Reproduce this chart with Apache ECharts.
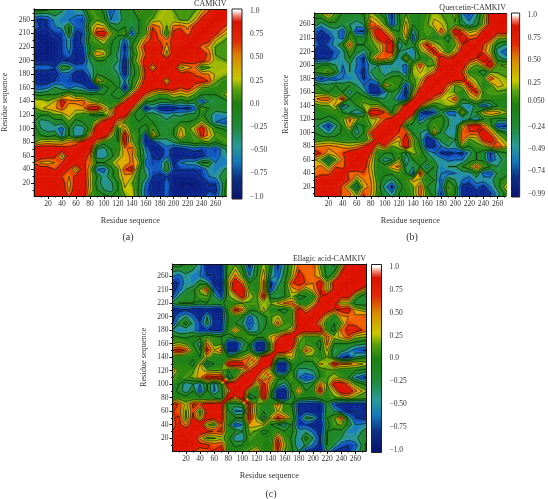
<!DOCTYPE html>
<html>
<head>
<meta charset="utf-8">
<title>Residue cross correlation maps</title>
<script src="https://cdn.jsdelivr.net/npm/echarts@6/dist/echarts.min.js"></script>
<style>
  html, body { margin: 0; padding: 0; background: #fff; }
  #chart { width: 548px; height: 499px; filter: blur(0.35px); }
</style>
</head>
<body>
<div id="chart"></div>
<script>
// residue position of each matrix row/column
const residues = [0, 10, 20, 30, 40, 50, 60, 70, 80, 90, 100, 110, 120, 130, 140, 150, 160, 170, 180, 190, 200, 210, 220, 230, 240, 250, 260, 278];

const xTicks = [20, 40, 60, 80, 100, 120, 140, 160, 180, 200, 220, 240, 260];
const xMinorTicks = [10, 30, 50, 70, 90, 110, 130, 150, 170, 190, 210, 230, 250, 270];
const yTicks = [20, 40, 60, 80, 100, 120, 140, 160, 180, 200, 220, 240, 260];
const yTickLabels = ["20", "40", "60", "80", "100", "120", "140", "160", "180", "200", "220", "210", "260"];

const barTicksDefault = [1, 0.75, 0.5, 0.25, 0, -0.25, -0.5, -0.75, -1];
const barLabelsDefault = ["1.0", "0.75", "0.50", "0.25", "0.0", "−0.25", "−0.50", "−0.75", "−1.0"];
const barTicksQuercetin = [1, 0.75, 0.5, 0.25, 0.05, -0.24, -0.49, -0.74, -0.99];
const barLabelsQuercetin = ["1.0", "0.75", "0.50", "0.25", "0.050", "−0.24", "−0.49", "−0.74", "−0.99"];

// correlation matrices, lower triangle only (row = y residue, column = x residue), the maps are symmetric
const camkivRows = [
  [.8],
  [.8,.85],
  [.8,.85,.85],
  [.8,.85,.85,.85],
  [.75,.8,.8,.6,.9],
  [.6,.4,.35,.45,.6,.9],
  [.85,.8,.75,.7,.2,.8,.9],
  [.85,.85,.85,.85,.8,.7,.85,.9],
  [.1,.3,.35,.3,.3,.45,.5,.8,.9],
  [0,-.1,-.2,-.1,-.5,-.1,-.4,-.3,.4,.9],
  [0,-.3,-.4,-.4,-.6,-.1,-.45,-.4,0,.9,.9],
  [-.1,-.4,-.35,-.2,-.2,.1,-.2,-.1,-.1,.3,.75,.9],
  [-.1,-.1,-.1,.1,.1,.35,.1,0,-.1,-.2,-.1,.4,.85],
  [.1,.25,.35,.4,.6,.3,.35,.4,.75,.8,.4,.1,.85,.95],
  [.25,.25,.15,.3,.75,.5,.5,.55,.2,.1,0,-.1,-.05,.6,.95],
  [-.1,-.15,-.1,-.1,0,.25,0,0,-.1,0,-.1,-.1,-.2,-.1,.5,.95],
  [-.6,-.6,-.5,-.25,-.4,-.55,-.4,-.5,-.8,-.8,-.2,-.05,-.1,-.9,-.1,.5,.95],
  [-.75,-.85,-.85,-.7,-.6,-.65,-.75,-.85,-.8,.4,.1,-.1,-.2,-.5,-.1,.2,.8,.95],
  [-.85,-.9,-.9,-.8,-.6,-.6,-.85,-.9,-.5,-.1,-.2,-.2,-.3,-.85,-.2,.05,.7,.85,.9],
  [-.6,-.55,-.55,-.7,-.1,-.2,-.55,-.55,-.4,-.2,-.2,-.25,-.4,-.9,-.2,.1,.8,.3,.85,.95],
  [-.9,-.9,-.9,-.9,-.7,-.8,-.9,-.85,-.3,-.1,-.1,-.2,-.3,-.9,-.1,.3,.8,.85,.85,.85,.95],
  [-.9,-.95,-.95,-.9,-.7,-.5,-.9,-.8,-.1,.45,.3,-.1,-.35,-.7,-.2,.2,.6,.85,.7,.2,.8,.9],
  [-.85,-.9,-.95,-.9,-.7,-.4,-.85,-.7,-.1,0,.05,-.1,-.2,-.85,-.1,.3,.75,.8,.8,.35,.8,.85,.95],
  [-.8,-.95,-.95,-.9,-.7,-.4,-.9,-.6,.05,.1,.3,-.05,-.2,-.6,-.2,.1,.5,.7,.6,.5,.7,.7,.9,.95],
  [-.85,-.9,-.9,-.7,-.7,-.1,-.8,-.7,-.05,.7,.8,.2,-.05,.1,-.7,-.1,.1,.75,.5,-.1,.7,.8,.5,.8,.95],
  [-.5,-.75,-.7,-.5,-.4,-.1,-.6,-.6,.1,.4,.3,-.1,-.2,-.1,-.3,-.1,.05,.6,.45,.1,.5,.55,.4,.7,.85,.95],
  [-.65,-.8,-.7,-.4,-.5,-.5,-.6,-.7,-.1,.1,0,-.5,-.5,-.15,-.25,-.1,.05,.15,.25,.2,.2,.1,.1,.3,.7,.85,.95],
  [.1,.15,.05,-.1,-.2,-.5,-.3,-.2,.1,0,-.2,-.7,-.4,-.1,-.1,.25,.05,-.05,.15,.25,.1,.1,.1,.05,.2,.5,.85,.95]
];

const quercetinRows = [
  [.5],
  [.7,.85],
  [.8,.85,.9],
  [.7,.85,.85,.9],
  [.5,.55,.55,.75,.95],
  [.4,.5,.15,.6,.5,.95],
  [.3,.1,-.4,.1,.5,.85,.95],
  [.8,.6,.35,.45,.6,.8,.85,.95],
  [.4,.45,.5,.45,.4,.3,.4,.6,.9],
  [-.05,0,.05,0,-.1,-.05,-.1,-.1,.3,.9],
  [-.1,-.2,-.4,-.2,-.05,0,-.4,-.1,.6,.85,.9],
  [-.2,-.45,-.8,-.35,-.05,.4,-.3,-.1,.1,.6,.85,.9],
  [-.1,-.1,-.2,-.1,.1,.5,.2,0,.2,.3,.6,.85,.9],
  [-.1,-.05,0,.05,-.1,-.3,-.45,-.3,.85,.85,.6,-.1,.6,.95],
  [0,.1,.1,.35,-.6,-.3,-.1,.2,.15,.2,-.1,-.2,.1,.8,.95],
  [.4,.55,.55,.2,.7,-.1,0,.05,-.1,-.2,-.3,-.2,-.6,-.7,.6,.9],
  [.05,0,-.1,-.1,-.1,-.4,-.1,-.3,-.8,-.9,-.5,-.1,-.3,-.9,.1,.8,.95],
  [0,-.2,-.25,-.1,-.2,-.1,-.3,-.5,-.75,-.7,.35,.1,0,-.7,-.1,.45,.85,.95],
  [-.6,-.75,-.55,-.65,-.5,-.5,-.4,-.75,-.5,-.2,-.2,0,.05,-.2,.1,.2,.7,.85,.95],
  [-.05,.05,.15,-.1,-.6,-.3,-.55,-.8,-.3,-.2,-.45,-.3,-.3,-.6,.2,.3,.2,.5,.9,.95],
  [-.2,-.1,-.1,-.3,-.5,-.3,-.5,-.7,-.4,-.3,-.4,-.4,-.4,-.6,.1,.6,.1,.1,.85,.95,.9],
  [-.85,-.75,-.8,-.5,-.4,-.1,-.5,-.8,.1,.55,.55,.3,-.5,.25,-.4,-.1,-.1,.25,.8,.6,.85,.9],
  [-.75,-.85,-.85,-.6,-.4,.1,-.2,-.4,-.1,.1,.6,.7,-.3,-.4,-.5,.1,.4,.75,.3,0,.3,.8,.95],
  [-.5,-.8,-.6,-.4,-.1,.55,-.1,-.1,.05,.2,.55,.85,-.5,-.1,-.2,.3,.7,.3,.1,0,.1,.6,.85,.95],
  [-.65,-.9,-.8,-.4,-.6,.1,-.15,-.2,.1,.7,.85,.5,-.1,.3,-.7,.05,.05,-.1,.05,-.3,.45,.85,.55,.6,.95],
  [-.6,-.75,-.5,-.4,-.65,-.1,-.7,-.75,.4,.85,.5,.1,-.1,.45,-.4,0,.1,.05,.6,.1,.85,.55,.2,.3,.7,.95],
  [-.2,-.4,-.2,-.15,-.25,-.3,-.4,-.3,.6,.4,.1,-.7,-.2,.35,-.1,0,.1,.35,.3,.1,.1,-.2,-.4,-.2,.2,.8,.95],
  [0,.2,.5,.15,-.1,-.1,-.1,-.05,.15,-.05,-.3,-.75,-.1,.1,-.1,-.05,.05,.2,.1,.05,.2,-.5,-.75,-.4,.1,.85,.9,.95]
];

const ellagicRows = [
  [.8],
  [.85,.85],
  [.75,.9,.9],
  [.6,.85,.85,.85],
  [.5,.7,.4,.8,.85],
  [.6,.65,.05,.7,.15,.8],
  [.65,.55,.1,.6,0,.7,.85],
  [.75,.6,.2,.65,.6,.75,.75,.85],
  [-.1,0,0,-.1,-.1,-.1,-.1,-.3,.9],
  [0,-.15,-.45,-.1,-.7,-.05,-.55,-.2,.4,.9],
  [.05,-.1,-.45,-.3,-.5,-.1,-.5,-.1,.85,.85,.9],
  [.15,0,.1,.15,.4,.75,.7,.75,-.4,.1,.85,.9],
  [.5,.05,0,.1,.35,.2,.1,.15,-.1,-.1,.2,.6,.9],
  [-.05,0,0,-.2,.3,-.4,-.1,-.1,.8,.85,.75,.2,.5,.95],
  [0,-.05,-.1,-.05,-.1,.3,-.1,-.05,-.05,.1,.2,.5,.2,.75,.95],
  [.6,.75,.6,.1,-.3,.7,.3,.5,-.85,-.85,-.2,-.05,-.7,-.85,.1,.9],
  [.1,.2,.1,-.1,-.4,.5,.05,.05,-.85,-.9,-.4,-.05,-.85,-.9,.1,.85,.9],
  [-.05,-.1,-.15,-.05,-.05,.1,0,-.1,-.2,-.1,0,.1,0,-.05,.3,.5,.85,.9],
  [-.3,-.5,-.45,-.4,-.7,-.7,-.75,-.8,0,.45,.05,-.5,-.4,-.1,-.1,-.1,.1,.3,.9],
  [-.8,-.25,0,-.35,-.7,-.2,-.75,-.8,-.05,-.1,-.3,-.7,-.35,-.2,.05,.55,.05,0,.8,.95],
  [-.85,-.5,-.3,-.55,-.85,-.3,-.85,-.85,-.1,0,-.1,-.6,-.3,-.2,.1,.25,0,.05,.85,.85,.95],
  [-.9,-.8,-.75,-.85,-.9,-.8,-.9,-.9,.05,.75,.5,-.05,-.05,.35,-.1,-.1,-.2,0,.8,.4,.7,.85],
  [-.3,-.1,-.1,-.1,-.2,-.1,-.15,-.15,0,0,.1,.1,.1,.2,.15,.3,.5,.55,0,-.1,.25,.8,.9],
  [-.75,-.3,-.15,-.2,.1,.1,-.3,-.7,.1,.3,.75,.25,.05,.75,-.2,-.3,-.1,.2,-.2,-.1,-.1,.6,.85,.9],
  [-.85,-.6,-.3,-.15,.15,.6,-.6,-.85,.15,.85,.8,.1,-.1,.5,-.7,-.2,-.1,.35,.5,.1,.4,.7,.2,.7,.95],
  [-.8,-.7,-.4,-.45,-.15,-.3,-.85,-.9,.3,.85,.5,-.1,-.1,.5,-.8,-.4,-.1,.6,.7,.6,.45,.8,.2,.75,.85,.95],
  [-.45,-.6,-.35,-.5,-.5,-.7,-.7,-.8,.1,.5,.1,-.5,-.1,.4,-.3,-.6,-.2,.2,.75,.55,.5,.3,-.2,.1,.8,.9,.95],
  [0,.05,-.1,-.1,-.4,-.9,-.9,-.85,.05,.1,-.2,-.85,-.2,.2,-.1,-.8,-.3,.1,.5,.5,.6,.1,-.2,-.4,.1,.85,.9,.95]
];

// colour ramp of the colour bars
const barRampValues = [-1, -0.8, -0.62, -0.45, -0.25, 0, 0.15, 0.27, 0.5, 0.68, 0.88, 0.95, 1];
const barRampColors = ["#0a1570", "#0d2f80", "#1478b8", "#2a9a98", "#1f8a3a", "#1f8010", "#57a010", "#c8c800", "#d88a00", "#e02a08", "#d81400", "#f08a78", "#ffffff"];

// colour ramp of the maps, my readings run a bit flat so it saturates earlier than the bars
const mapRampValues = [-1, -0.72, -0.52, -0.38, -0.22, 0, 0.12, 0.27, 0.42, 0.55, 0.68, 1];
const mapRampColors = ["#0a1878", "#0c2f9c", "#1470d0", "#2a9a98", "#1f8a30", "#1f8010", "#4f9c10", "#c8c800", "#f29400", "#f05a00", "#e01800", "#dd1000"];

const bandStep = 0.0625;
const lineLevels = [-0.72, -0.5, -0.3, -0.1, 0.12, 0.28, 0.45, 0.62];

const textColor = "#333";
const fontFamily = "'Liberation Serif', serif";

const panels = [
  {
    title: "CAMKIV", caption: "(a)", captionX: 128, captionY: 232, rows: camkivRows,
    grid: { left: 32.5, top: 9, width: 194, height: 187 }, xRange: [0, 275.5], yRange: [1, 276],
    bar: { left: 232, top: 9, width: 10, height: 190 }, barRange: [-1.025, 1.022],
    barTicks: barTicksDefault, barLabels: barLabelsDefault
  },
  {
    title: "Quercetin-CAMKIV", caption: "(b)", captionX: 412, captionY: 232, rows: quercetinRows,
    grid: { left: 314.5, top: 13, width: 191.5, height: 183 }, xRange: [0, 272], yRange: [6.5, 277],
    bar: { left: 511.5, top: 13, width: 10, height: 184 }, barRange: [-1.025, 1.028],
    barTicks: barTicksQuercetin, barLabels: barLabelsQuercetin
  },
  {
    title: "Ellagic acid-CAMKIV", caption: "(c)", captionX: 271, captionY: 489, rows: ellagicRows,
    grid: { left: 172.5, top: 264, width: 193.5, height: 187 }, xRange: [1, 275], yRange: [1, 278],
    bar: { left: 371.5, top: 264.5, width: 10, height: 188 }, barRange: [-1.03, 1.03],
    barTicks: barTicksDefault, barLabels: barLabelsDefault
  }
];

function expandSymmetric(rows) {
  return rows.map((row, i) => rows.map((other, j) => (j <= i ? row[j] : other[i])));
}

function colorAt(value) {
  let k = 0;
  while (k < mapRampValues.length - 2 && value > mapRampValues[k + 1]) {
    k++;
  }
  const t = Math.min(1, Math.max(0, (value - mapRampValues[k]) / (mapRampValues[k + 1] - mapRampValues[k])));
  const a = echarts.color.parse(mapRampColors[k]);
  const b = echarts.color.parse(mapRampColors[k + 1]);
  return `rgb(${[0, 1, 2].map((c) => Math.round(a[c] + (b[c] - a[c]) * t)).join(",")})`;
}

// one contour cell per grid square: [x0, y0, x1, y1, v00, v10, v11, v01]
function buildCells(rows) {
  const matrix = expandSymmetric(rows);
  const cells = [];
  for (let j = 0; j < residues.length - 1; j++) {
    for (let i = 0; i < residues.length - 1; i++) {
      cells.push([residues[i], residues[j], residues[i + 1], residues[j + 1],
        matrix[j][i], matrix[j][i + 1], matrix[j + 1][i + 1], matrix[j + 1][i]]);
    }
  }
  return cells;
}

function cellCorners(api) {
  const x0 = api.value(0);
  const y0 = api.value(1);
  const x1 = api.value(2);
  const y1 = api.value(3);
  return [
    [x0, y0, api.value(4)],
    [x1, y0, api.value(5)],
    [x1, y1, api.value(6)],
    [x0, y1, api.value(7)]
  ];
}

function crossing(a, b, level) {
  const t = (level - a[2]) / (b[2] - a[2]);
  return [a[0] + (b[0] - a[0]) * t, a[1] + (b[1] - a[1]) * t, level];
}

// keep the part of the polygon on one side of a value level
function clipByLevel(polygon, level, keepAbove) {
  const inside = (p) => (keepAbove ? p[2] >= level : p[2] <= level);
  const out = [];
  polygon.forEach((p, i) => {
    const next = polygon[(i + 1) % polygon.length];
    if (inside(p)) {
      out.push(p);
    }
    if (inside(p) !== inside(next)) {
      out.push(crossing(p, next, level));
    }
  });
  return out;
}

function renderBands(params, api) {
  const corners = cellCorners(api);
  const values = corners.map((c) => c[2]);
  const low = Math.min(...values);
  const high = Math.max(...values);
  const children = [];
  for (let lo = -1; lo < 1; lo += bandStep) {
    const hi = lo + bandStep;
    if (hi < low || lo > high) {
      continue;
    }
    const piece = clipByLevel(clipByLevel(corners, lo, true), hi, false);
    if (piece.length < 3) {
      continue;
    }
    const fill = colorAt(lo + bandStep / 2);
    children.push({
      type: "polygon",
      shape: { points: piece.map((p) => api.coord([p[0], p[1]])) },
      style: { fill, stroke: fill, lineWidth: 0.7 },
      silent: true
    });
  }
  return { type: "group", children };
}

function renderLines(params, api) {
  const corners = cellCorners(api);
  const children = [];
  lineLevels.forEach((level) => {
    const hits = [];
    corners.forEach((p, i) => {
      const next = corners[(i + 1) % 4];
      if ((p[2] >= level) !== (next[2] >= level)) {
        hits.push(crossing(p, next, level));
      }
    });
    for (let k = 0; k + 1 < hits.length; k += 2) {
      const from = api.coord([hits[k][0], hits[k][1]]);
      const to = api.coord([hits[k + 1][0], hits[k + 1][1]]);
      children.push({
        type: "line",
        shape: { x1: from[0], y1: from[1], x2: to[0], y2: to[1] },
        style: { stroke: "rgba(10,25,10,0.8)", lineWidth: 0.8 },
        silent: true
      });
    }
  });
  return { type: "group", children };
}

function renderBar(params, api) {
  const top = api.coord([0, api.value(1)]);
  const bottom = api.coord([1, api.value(0)]);
  const lo = api.value(0);
  const hi = api.value(1);
  const colorStops = barRampValues.map((v, k) => ({
    offset: Math.min(1, Math.max(0, (hi - v) / (hi - lo))),
    color: barRampColors[k]
  })).reverse();
  return {
    type: "rect",
    shape: { x: top[0], y: top[1], width: bottom[0] - top[0], height: bottom[1] - top[1] },
    style: {
      fill: new echarts.graphic.LinearGradient(0, 0, 0, 1, colorStops),
      stroke: "#222",
      lineWidth: 1
    },
    silent: true
  };
}

function hiddenValueAxis(gridIndex, range) {
  return { type: "value", gridIndex, min: range[0], max: range[1], show: false };
}

// main axis with labels, second axis for the short ticks, third one closes the frame on the far side
function mapAxes(gridIndex, range, ticks, minorTicks, labels, sides, withName) {
  const frameLine = { show: true, lineStyle: { color: "#111", width: 1 } };
  const base = { type: "value", gridIndex, min: range[0], max: range[1], splitLine: { show: false }, z: 5 };
  return [
    {
      ...base,
      position: sides[0],
      name: withName,
      nameLocation: "middle",
      nameGap: sides[0] === "bottom" ? 21 : 25,
      nameTextStyle: { fontFamily, fontSize: 8.3, color: textColor },
      axisLine: frameLine,
      axisTick: { show: true, customValues: ticks, length: 3, lineStyle: { color: "#111", width: 1 } },
      axisLabel: {
        show: true,
        customValues: ticks,
        margin: 4,
        fontFamily,
        fontSize: 7.5,
        color: textColor,
        formatter: (value) => labels[ticks.indexOf(value)]
      }
    },
    {
      ...base,
      position: sides[0],
      axisLine: { show: false },
      axisTick: { show: true, customValues: minorTicks, length: 1.5, lineStyle: { color: "#111", width: 1 } },
      axisLabel: { show: false }
    },
    {
      ...base,
      position: sides[1],
      axisLine: frameLine,
      axisTick: { show: false },
      axisLabel: { show: false }
    }
  ];
}

const option = {
  animation: false,
  backgroundColor: "#fff",
  title: panels.flatMap((panel) => [
    {
      text: panel.title,
      right: 548 - (panel.grid.left + panel.grid.width),
      top: panel.grid.top - 9,
      padding: 0,
      textStyle: { fontFamily, fontSize: 8, fontWeight: "normal", color: textColor }
    },
    {
      text: panel.caption,
      left: panel.captionX,
      top: panel.captionY,
      textAlign: "center",
      padding: 0,
      textStyle: { fontFamily, fontSize: 10, fontWeight: "normal", color: textColor }
    }
  ]),
  grid: panels.flatMap((panel) => [panel.grid, panel.bar]),
  xAxis: panels.flatMap((panel, p) => [
    ...mapAxes(p * 2, panel.xRange, xTicks, xMinorTicks, xTicks.map(String), ["bottom", "top"], "Residue sequence"),
    hiddenValueAxis(p * 2 + 1, [0, 1])
  ]),
  yAxis: panels.flatMap((panel, p) => [
    ...mapAxes(p * 2, panel.yRange, yTicks, xMinorTicks, yTickLabels, ["left", "right"], "Residue sequence"),
    {
      type: "value",
      gridIndex: p * 2 + 1,
      position: "right",
      min: panel.barRange[0],
      max: panel.barRange[1],
      splitLine: { show: false },
      axisLine: { show: false },
      axisTick: { show: true, customValues: panel.barTicks, length: 3, lineStyle: { color: "#111", width: 1 } },
      axisLabel: {
        show: true,
        customValues: panel.barTicks,
        margin: 8,
        fontFamily,
        fontSize: 7.5,
        color: textColor,
        formatter: (value) => panel.barLabels[panel.barTicks.indexOf(value)]
      }
    }
  ]),
  series: panels.flatMap((panel, p) => {
    const cells = buildCells(panel.rows);
    const shared = { type: "custom", coordinateSystem: "cartesian2d", xAxisIndex: p * 4, yAxisIndex: p * 4, clip: true, data: cells, silent: true, encode: { x: [0, 2], y: [1, 3] } };
    return [
      { ...shared, z: 2, renderItem: renderBands },
      { ...shared, z: 3, renderItem: renderLines },
      {
        type: "custom",
        coordinateSystem: "cartesian2d",
        xAxisIndex: p * 4 + 3,
        yAxisIndex: p * 4 + 3,
        data: [[panel.barRange[0], panel.barRange[1]]],
        silent: true,
        encode: { y: [0, 1] },
        renderItem: renderBar
      }
    ];
  })
};

const chart = echarts.init(document.getElementById("chart"), null, { renderer: "canvas" });
chart.setOption(option);
</script>
</body>
</html>
